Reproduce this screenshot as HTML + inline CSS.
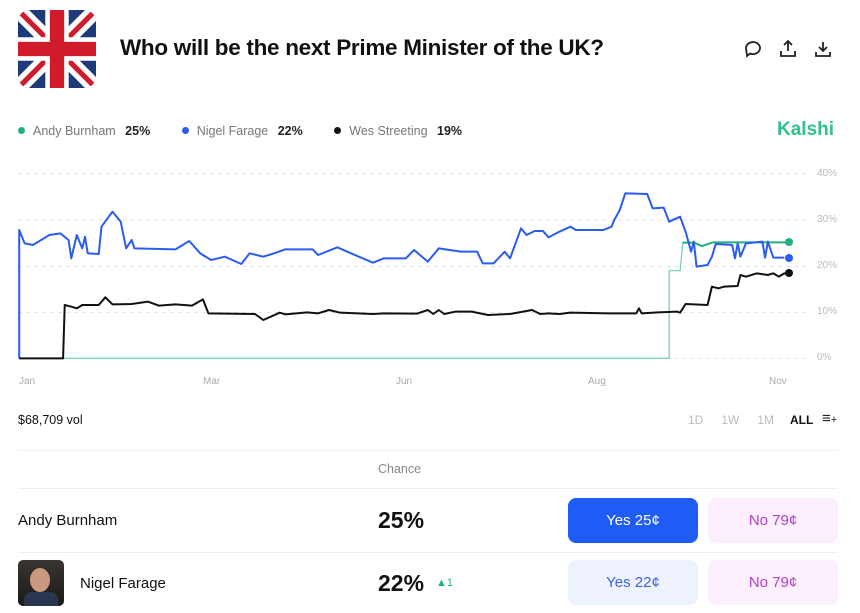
<!DOCTYPE html>
<html><head><meta charset="utf-8"><style>
body{margin:0;width:860px;height:613px;background:#fff;font-family:"Liberation Sans",sans-serif;position:relative;overflow:hidden;color:#111}
.a{position:absolute;white-space:nowrap}
.btn{position:absolute;border-radius:8px;display:flex;align-items:center;justify-content:center;font-size:15px}
.hr{position:absolute;left:18px;width:820px;height:1px;background:#eee}
.yl{position:absolute;left:817px;font-size:10px;color:#bbb}
.xl{position:absolute;top:376px;font-size:10px;color:#aaa}
.lg{display:inline-block;width:7px;height:7px;border-radius:50%;margin-right:8px;vertical-align:1px}
</style></head><body>
<svg class="a" style="left:18px;top:10px" width="78" height="78" viewBox="0 0 60 60">
<defs><clipPath id="c"><rect width="60" height="60" rx="9"/></clipPath></defs>
<g clip-path="url(#c)">
<rect width="60" height="60" fill="#1f3a7a"/>
<path d="M0,0L60,60M60,0L0,60" stroke="#fff" stroke-width="12"/>
<path d="M0,0L60,60M60,0L0,60" stroke="#cf1b2b" stroke-width="4"/>
<path d="M30,0V60M0,30H60" stroke="#fff" stroke-width="18"/>
<path d="M30,0V60M0,30H60" stroke="#cf1b2b" stroke-width="11"/>
</g></svg>
<div class="a" style="left:120px;top:35px;font-size:22.5px;font-weight:bold;letter-spacing:-0.3px">Who will be the next Prime Minister of the UK?</div>
<svg class="a" style="left:742px;top:38px" width="90" height="22" viewBox="0 0 90 22" fill="none" stroke="#222" stroke-width="1.8">
<path d="M4,10a7,6 0 1 1 4,5.5l-3,2.5z"/>
<path d="M46,3v10M42,7l4,-4l4,4M39,13v5h14v-5"/>
<path d="M81,4v9M77,9l4,4l4,-4M74,14v4h14v-4"/>
</svg>
<div class="a" style="left:18px;top:124px;font-size:12.5px;color:#777">
<span class="lg" style="background:#22b07d"></span>Andy Burnham <b style="color:#222;margin-left:6px">25%</b>
<span class="lg" style="margin-left:28px;background:#2b5cf0"></span>Nigel Farage <b style="color:#222;margin-left:6px">22%</b>
<span class="lg" style="margin-left:28px;background:#111"></span>Wes Streeting <b style="color:#222;margin-left:6px">19%</b></div>
<div class="a" style="left:777px;top:119px;font-size:19px;font-weight:bold;color:#2fc28a">Kalshi</div>
<svg class="a" style="left:0;top:160px" width="860" height="230" viewBox="0 0 1568 690" preserveAspectRatio="none">
<path vector-effect="non-scaling-stroke" stroke="#ddd" stroke-width="1" stroke-dasharray="3,5" d="M35,40H1470M35,180H1470M35,320H1470M35,458H1470M35,595H1470"/>
<polyline vector-effect="non-scaling-stroke" fill="none" stroke="#6ccfa6" stroke-width="1.2" points="35,595 1220,595 1220,332 1240,332 1245,248 1265,248 1280,258 1300,247 1440,247"/>
<polyline vector-effect="non-scaling-stroke" fill="none" stroke="#22b07d" stroke-width="2" points="1245,248 1265,248 1280,258 1300,247 1440,247"/>
<polyline vector-effect="non-scaling-stroke" fill="none" stroke="#2b5cf0" stroke-width="2" stroke-linejoin="round" points="35,595 35,210 45,250 60,255 90,225 110,220 125,240 130,295 140,225 150,265 155,230 160,280 180,282 185,200 205,155 220,185 230,265 240,240 245,265 320,268 345,243 365,280 385,300 410,290 440,312 455,280 480,290 500,280 520,268 570,268 580,285 615,262 640,280 680,308 700,295 740,295 755,270 780,305 800,265 840,275 870,275 880,310 900,310 920,275 930,295 950,205 960,225 975,213 990,213 1000,232 1020,215 1040,200 1050,210 1100,210 1115,200 1120,180 1130,150 1140,100 1180,102 1190,145 1210,143 1220,185 1240,170 1250,215 1260,275 1265,245 1270,320 1290,315 1298,290 1305,252 1335,255 1340,295 1345,250 1350,290 1360,250 1390,245 1395,293 1400,245 1410,293 1430,293"/>
<polyline vector-effect="non-scaling-stroke" fill="none" stroke="#111" stroke-width="2" stroke-linejoin="round" points="35,595 115,595 118,435 130,440 140,445 150,435 180,435 192,412 205,433 240,432 270,425 290,437 320,433 350,437 370,418 380,460 465,462 480,480 510,458 520,463 560,457 580,460 600,450 620,458 680,462 700,460 760,461 780,450 790,462 800,450 810,462 830,455 860,455 890,465 930,462 970,450 985,462 1000,460 1020,462 1040,458 1110,460 1160,460 1165,445 1170,460 1200,457 1235,455 1240,458 1250,432 1290,435 1298,380 1310,385 1320,380 1345,378 1350,345 1360,350 1380,340 1400,345 1410,340 1420,350 1430,340 1438,342"/>
</svg>
<div class="a" style="left:785px;top:238px;width:8px;height:8px;border-radius:50%;background:#22b07d"></div>
<div class="a" style="left:785px;top:254px;width:8px;height:8px;border-radius:50%;background:#2b5cf0"></div>
<div class="a" style="left:785px;top:269px;width:8px;height:8px;border-radius:50%;background:#111"></div>
<div class="yl" style="top:168px">40%</div><div class="yl" style="top:214px">30%</div><div class="yl" style="top:260px">20%</div><div class="yl" style="top:306px">10%</div><div class="yl" style="top:352px">0%</div>
<div class="xl" style="left:19px">Jan</div><div class="xl" style="left:203px">Mar</div><div class="xl" style="left:396px">Jun</div><div class="xl" style="left:588px">Aug</div><div class="xl" style="left:769px">Nov</div>
<div class="a" style="left:18px;top:413px;font-size:12.5px">$68,709 vol</div>
<div class="a" style="left:688px;top:413px;font-size:12px;color:#bbb">1D<span style="margin-left:18px">1W</span><span style="margin-left:18px">1M</span><span style="margin-left:16px;color:#111;font-weight:bold">ALL</span></div>
<div class="a" style="left:822px;top:410px;font-size:15px;color:#222">≡<span style="font-size:11px">+</span></div>
<div class="hr" style="top:450px"></div>
<div class="a" style="left:378px;top:462px;font-size:12.5px;color:#888">Chance</div>
<div class="hr" style="top:488px"></div>
<div class="a" style="left:18px;top:512px;font-size:15px">Andy Burnham</div>
<div class="a" style="left:378px;top:507px;font-size:23px;font-weight:bold">25%</div>
<div class="btn" style="left:568px;top:498px;width:130px;height:45px;background:#1f5cf5;color:#fff">Yes&nbsp;25¢</div>
<div class="btn" style="left:708px;top:498px;width:130px;height:45px;background:#fbeefd;color:#b23fd0">No&nbsp;79¢</div>
<div class="hr" style="top:552px"></div>
<div class="a" style="left:18px;top:560px;width:46px;height:46px;border-radius:5px;background:linear-gradient(#3a3430,#1a1a1a);overflow:hidden"><div style="position:absolute;left:12px;top:8px;width:20px;height:24px;border-radius:50%;background:#c99a80"></div><div style="position:absolute;left:6px;top:32px;width:34px;height:14px;background:#2a3550;border-radius:8px 8px 0 0"></div></div>
<div class="a" style="left:80px;top:575px;font-size:15px">Nigel Farage</div>
<div class="a" style="left:378px;top:570px;font-size:23px;font-weight:bold">22%</div>
<div class="a" style="left:436px;top:577px;font-size:11px;color:#22b07d">▲1</div>
<div class="btn" style="left:568px;top:560px;width:130px;height:45px;background:#eef2fd;color:#3d63e0">Yes&nbsp;22¢</div>
<div class="btn" style="left:708px;top:560px;width:130px;height:45px;background:#fbeefd;color:#b23fd0">No&nbsp;79¢</div>
</body></html>
